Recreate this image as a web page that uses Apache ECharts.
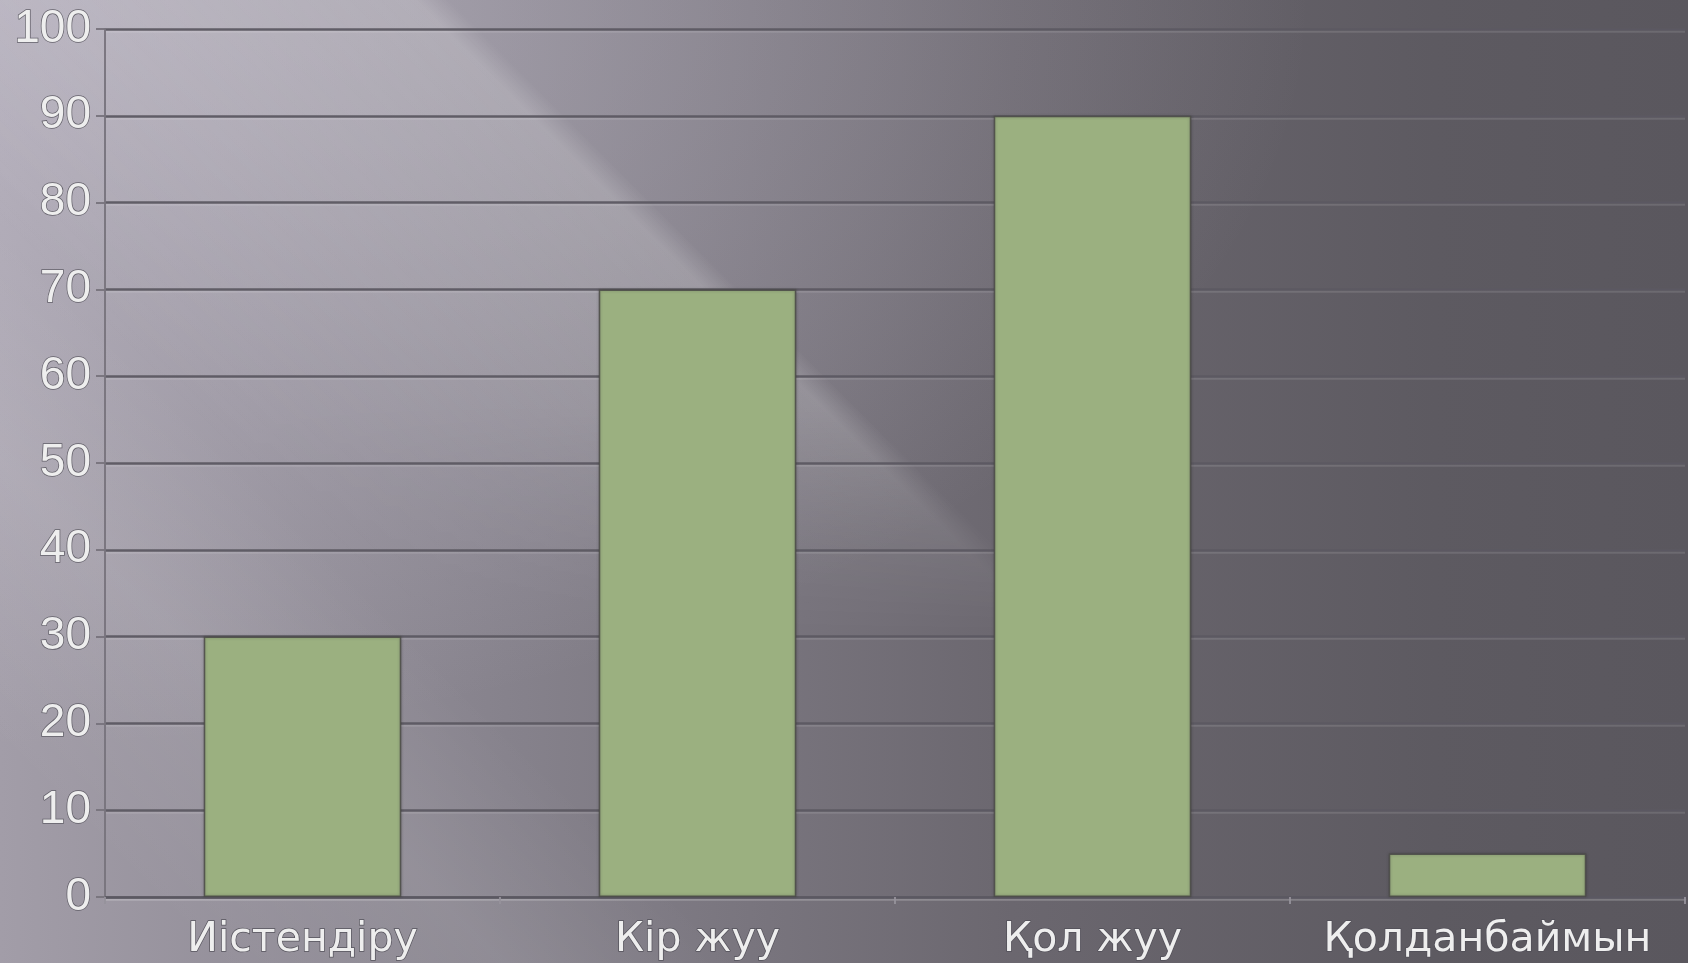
<!DOCTYPE html>
<html>
<head>
<meta charset="utf-8">
<script src="https://cdn.jsdelivr.net/npm/echarts@6/dist/echarts.min.js"></script>
<style>
  html, body { margin: 0; padding: 0; }
  #wrap {
    position: relative;
    width: 1688px;
    height: 963px;
    background-color: #5c5960;
    background-image:
      linear-gradient(45deg, rgba(255,255,255,0) 8%, rgba(255,255,255,0.08) 19%, rgba(255,255,255,0) 28%),
      radial-gradient(ellipse at 0% 0%, rgba(205,200,214,0.5), rgba(205,200,214,0) 55%),
      linear-gradient(to right, #a29da8 0%, #86828c 30%, #6b676f 60%, #5d5a61 85%, #5a575e 100%);
  }
  #wrap::before {
    content: '';
    position: absolute;
    left: 0; top: 0; right: 0; bottom: 0;
    background-image: linear-gradient(45deg, rgba(255,255,255,0) 28%, rgba(255,255,255,0.11) 42%, rgba(255,255,255,0.18) 52%, rgba(255,255,255,0) 53.3%);
    -webkit-mask-image: linear-gradient(to bottom, #000 0%, #000 42%, transparent 66%);
    mask-image: linear-gradient(to bottom, #000 0%, #000 42%, transparent 66%);
  }
  #chartBar {
    position: absolute;
    left: 0; top: 0;
    width: 1688px;
    height: 963px;
  }
</style>
</head>
<body>
<div id="wrap"><div id="chartBar"></div></div>
<script>
// категориялар мен мәндер
const categories = ['Иістендіру', 'Кір жуу', 'Қол жуу', 'Қолданбаймын']
const values = [30, 70, 90, 5]
const yTicks = { min: 0, max: 100, interval: 10 }

const charts = echarts.init(document.getElementById('chartBar'))

const gridLine = {
  color: 'rgba(92,89,98,0.95)',
  width: 2.5,
  shadowColor: 'rgba(255,255,255,0.12)',
  shadowOffsetY: 2,
  shadowBlur: 0
}

const option = {
  animation: false,
  grid: {
    left: 105,
    right: 3,
    top: 29,
    bottom: 66
  },
  xAxis: {
    type: 'category',
    data: categories,
    axisLine: {
      lineStyle: gridLine
    },
    axisTick: {
      show: true,
      length: 7,
      lineStyle: { color: 'rgba(150,146,155,0.9)', width: 2 }
    },
    axisLabel: {
      interval: 0,
      margin: 23,
      fontFamily: 'DejaVu Sans',
      fontSize: 41,
      color: '#eeeeee',
      textBorderColor: 'rgba(80,78,86,0.9)',
      textBorderWidth: 1.5
    }
  },
  yAxis: {
    type: 'value',
    min: yTicks.min,
    max: yTicks.max,
    interval: yTicks.interval,
    axisLine: {
      show: true,
      lineStyle: { color: 'rgba(120,116,125,0.95)', width: 2 }
    },
    axisTick: {
      show: true,
      length: 9,
      lineStyle: { color: 'rgba(120,116,125,0.95)', width: 2 }
    },
    splitLine: {
      lineStyle: gridLine
    },
    axisLabel: {
      margin: 14,
      fontFamily: 'Liberation Sans',
      fontSize: 46,
      color: '#eeeeee',
      textBorderColor: 'rgba(90,88,96,0.9)',
      textBorderWidth: 1.5
    }
  },
  series: [{
    type: 'bar',
    data: values,
    barWidth: '50%',
    itemStyle: {
      color: '#9bb080',
      borderColor: 'rgba(75,75,72,0.85)',
      borderWidth: 1.5,
      shadowColor: 'rgba(40,40,40,0.35)',
      shadowBlur: 3
    }
  }]
}

charts.setOption(option)
</script>
</body>
</html>
